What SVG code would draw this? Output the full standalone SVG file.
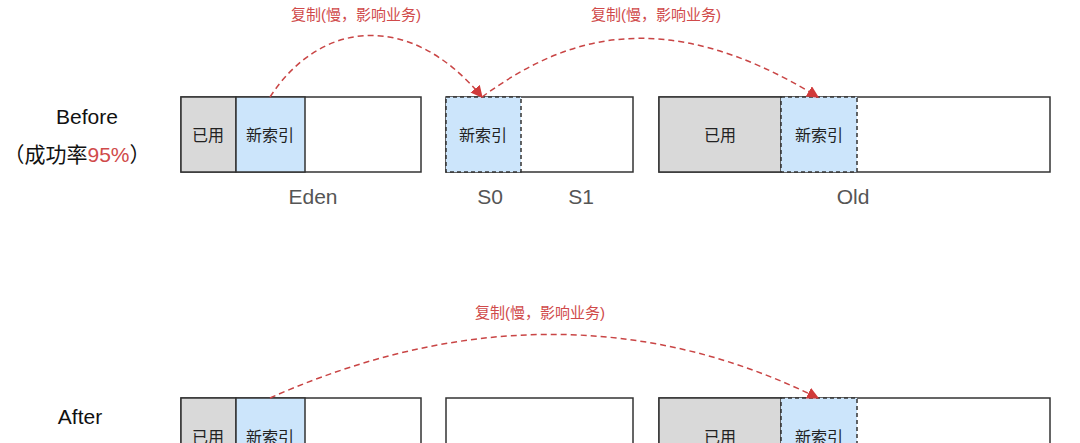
<svg xmlns="http://www.w3.org/2000/svg" width="1080" height="443" viewBox="0 0 1080 443">
<defs>
<style>
text{font-family:"Liberation Sans","Noto Sans CJK SC",sans-serif;}
.b{stroke:#333;stroke-width:1.5;}
.used{fill:#d9d9d9;}
.new{fill:#cce5fb;}
.e{fill:#fff;}
.d{stroke-dasharray:4 3;}
.t{font-size:16px;fill:#222;text-anchor:middle;}
.lab{font-size:21px;fill:#555;text-anchor:middle;}
.big{font-size:21px;fill:#111;text-anchor:middle;}
.red{font-size:15px;fill:#d04a4a;text-anchor:middle;}
.c{fill:none;stroke:#c94545;stroke-width:1.5;stroke-dasharray:6 4;}
</style>
<marker id="ah" viewBox="0 0 10 10" refX="9" refY="5" markerWidth="8" markerHeight="8" orient="auto"><path d="M0,0L10,5L0,10z" fill="#d03a3a"/></marker>
</defs>
<rect width="1080" height="443" fill="#fff"/>
<g id="before-label"><text class="big" x="87" y="124">Before</text><text class="big" x="77" y="162">（成功率<tspan fill="#d04a4a">95%</tspan>）</text></g>
<g id="eden-before">
<rect class="b e" x="181" y="97" width="240" height="75"/>
<rect class="b used" x="181" y="97" width="55" height="75"/>
<rect class="b new" x="236" y="97" width="69" height="75"/>
<text class="t" x="208" y="141">已用</text><text class="t" x="270" y="141">新索引</text>
<text class="lab" x="313" y="204">Eden</text></g>
<g id="survivor-before">
<rect class="b e" x="446" y="97" width="187" height="75"/>
<rect class="b new d" x="446" y="97" width="75" height="75"/>
<text class="t" x="483" y="141">新索引</text>
<text class="lab" x="490" y="204">S0</text><text class="lab" x="581" y="204">S1</text></g>
<g id="old-before">
<rect class="b e" x="659" y="97" width="391" height="75"/>
<rect class="b used" x="659" y="97" width="122" height="75"/>
<rect class="b new d" x="781" y="97" width="76" height="75"/>
<text class="t" x="720" y="141">已用</text><text class="t" x="819" y="141">新索引</text>
<text class="lab" x="853" y="204">Old</text></g>
<g id="after-label"><text class="big" x="80" y="424">After</text></g>
<g id="eden-after">
<rect class="b e" x="181" y="398" width="240" height="75"/>
<rect class="b used" x="181" y="398" width="55" height="75"/>
<rect class="b new" x="236" y="398" width="69" height="75"/>
<text class="t" x="208" y="443">已用</text><text class="t" x="270" y="443">新索引</text></g>
<g id="survivor-after"><rect class="b e" x="446" y="398" width="187" height="75"/></g>
<g id="old-after">
<rect class="b e" x="659" y="398" width="391" height="75"/>
<rect class="b used" x="659" y="398" width="122" height="75"/>
<rect class="b new d" x="781" y="398" width="76" height="75"/>
<text class="t" x="720" y="443">已用</text><text class="t" x="819" y="443">新索引</text></g>
<g id="connectors">
<path class="c" d="M270,97 C320,20 410,10 482,97" marker-end="url(#ah)"/>
<path class="c" d="M482,97 C560,40 660,0 818,97" marker-end="url(#ah)"/>
<path class="c" d="M270,398 C400,340 600,290 818,398" marker-end="url(#ah)"/>
<text class="red" x="356" y="20">复制(慢，影响业务)</text>
<text class="red" x="656" y="20">复制(慢，影响业务)</text>
<text class="red" x="540" y="318">复制(慢，影响业务)</text>
</g>
</svg>
